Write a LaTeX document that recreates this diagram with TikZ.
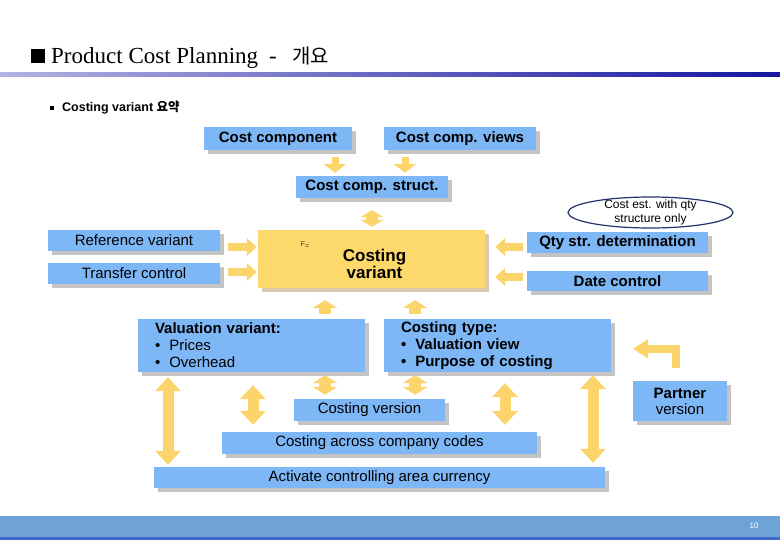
\documentclass[tikz,border=0pt]{standalone}
\usepackage{fontspec}
\setsansfont{Liberation Sans}
\newfontfamily\titlefont{Liberation Serif}
\newfontfamily\kr{Noto Sans CJK KR}
\usetikzlibrary{arrows.meta,shadows,calc,shapes.geometric}
\definecolor{boxblue}{RGB}{125,183,246}
\definecolor{cvyellow}{RGB}{253,216,106}
\definecolor{arryellow}{RGB}{252,212,108}
\definecolor{shgray}{RGB}{196,196,196}
\definecolor{shtan}{RGB}{216,202,170}
\definecolor{ellnavy}{RGB}{35,50,105}
\definecolor{footblue}{RGB}{111,163,216}
\definecolor{footdark}{RGB}{66,105,208}
\definecolor{lineleft}{RGB}{178,178,226}
\definecolor{lineright}{RGB}{22,22,160}
\tikzset{
  dtip/.tip={Triangle[width=23pt,length=9pt,line width=0pt]},
  ctip/.tip={Triangle[width=23pt,length=7pt,line width=0pt]},
  stip/.tip={Triangle[width=25pt,length=8pt,line width=0pt]},
  vtip/.tip={Triangle[width=26pt,length=14pt,line width=0pt]},
  htip/.tip={Triangle[width=18pt,length=10pt,line width=0pt]},
  btip/.tip={Triangle[width=19pt,length=15pt,line width=0pt]},
  bluebox/.style={fill=boxblue, inner sep=0pt, align=center,
    font=\sffamily\fontsize{15}{17}\selectfont,
    drop shadow={shadow xshift=4pt,shadow yshift=-4pt,opacity=1,fill=shgray}},
  bbold/.style={bluebox, font=\sffamily\bfseries\fontsize{15}{17}\selectfont},
  listbox/.style={bluebox, align=left, text width=193pt, inner xsep=17pt, minimum height=53pt},
  cvbox/.style={fill=cvyellow, inner sep=0pt,
    drop shadow={shadow xshift=4pt,shadow yshift=-4pt,opacity=1,fill=shtan}},
  yl/.style={draw=arryellow, line width=#1},
  ttl/.style={anchor=base west, inner sep=0pt, font=\titlefont\fontsize{23}{27}\selectfont},
}
\begin{document}
\begin{tikzpicture}[x=1pt,y=-1pt]
\useasboundingbox (0,0) rectangle (780,540);
\fill[white] (0,0) rectangle (780,540);

% header
\node[fill=black, minimum size=14pt, inner sep=0pt] (sq) at (37.5,56) {};
\node[ttl] (title) at (51,63.5) {Product Cost Planning};
\node[ttl] (dash) at (269,63.5) {-};
\node[ttl, font=\kr\fontsize{20}{25}\selectfont] (titlekr) at (292,64) {개요};
\shade[left color=lineleft, right color=lineright] (0,73) rectangle (780,77);
\node[fill=black, minimum size=4pt, inner sep=0pt] (bul) at (51.5,108.5) {};
\node[anchor=base west, inner sep=0pt, font=\sffamily\bfseries\fontsize{12.5}{15}\selectfont] (sub) at (62,112)
  {Costing variant {\kr\bfseries 요약}};

% top boxes
\node[bbold, minimum width=148pt, minimum height=23pt] (ccomp) at (278,138.5) {Cost component};
\node[bbold, minimum width=152pt, minimum height=23pt] (cviews) at (460,138.5) {Cost comp. views};
\node[bbold, minimum width=152pt, minimum height=22pt] (cstruct) at (372,187) {Cost comp. struct.};

% costing variant
\node[cvbox, minimum width=227pt, minimum height=58pt] (cv) at (371.5,259) {};
\node[font=\sffamily\bfseries\fontsize{17}{17}\selectfont, align=center, inner sep=0pt] (cvtext)
  at ($(cv.center)+(3,5)$) {Costing\\variant};
\node[font=\sffamily\fontsize{7}{7}\selectfont, inner sep=0pt, text=black!80] (glyph) at (305,245) {F\raisebox{-1.5pt}{=}};

% side boxes
\node[bluebox, minimum width=172pt, minimum height=21pt] (refv) at (134,240.5) {Reference variant};
\node[bluebox, minimum width=172pt, minimum height=21pt] (transfer) at (134,273.5) {Transfer control};
\node[bbold, minimum width=181pt, minimum height=21pt] (qty) at (617.5,242.5) {Qty str. determination};
\node[bbold, minimum width=181pt, minimum height=20pt] (date) at (617.5,281) {Date control};
\node[ellipse, draw=ellnavy, line width=1.2pt, fill=white, minimum width=165pt, minimum height=31pt,
  inner xsep=0pt, inner ysep=-4pt, align=center, font=\sffamily\fontsize{12}{14}\selectfont] (est)
  at (650.5,212.5) {Cost est. with qty\\structure only};

% lower boxes
\node[listbox] (valvar) at (251.5,345.5)
  {\textbf{Valuation variant:}\\\textbullet\hspace{9pt}Prices\\\textbullet\hspace{9pt}Overhead};
\node[listbox] (ctype) at (497.5,345.5)
  {\textbf{Costing type:}\\\textbf{\textbullet\hspace{9pt}Valuation view}\\\textbf{\textbullet\hspace{9pt}Purpose of costing}};
\node[bluebox, minimum width=151pt, minimum height=22pt] (cver) at (369.5,410) {Costing version};
\node[bluebox, minimum width=315pt, minimum height=22pt] (ccodes) at (379.5,443) {Costing across company codes};
\node[bluebox, minimum width=451pt, minimum height=21pt] (act) at (379.5,477.5) {Activate controlling area currency};
\node[bluebox, minimum width=94pt, minimum height=40pt, font=\sffamily\fontsize{15}{16}\selectfont] (partner)
  at (680,401) {\textbf{Partner}\\version};

% arrows top
\draw[yl=7pt, -dtip] ($(ccomp.south)+(57,7)$) -- ($(cstruct.north)+(-37,-3)$);
\draw[yl=7pt, -dtip] ($(cviews.south)+(-55,7)$) -- ($(cstruct.north)+(33,-3)$);
\draw[yl=12pt, ctip-ctip] ($(cstruct.south)+(0,12)$) -- ($(cstruct.south |- cv.north)+(0,-3)$);

% side arrows
\draw[yl=8pt, -htip] ($(refv.east)+(8,6.5)$) -- ($(refv.east -| cv.west)+(-1,6.5)$);
\draw[yl=8pt, -htip] ($(transfer.east)+(8,-1.5)$) -- ($(transfer.east -| cv.west)+(-1,-1.5)$);
\draw[yl=8pt, -htip] ($(qty.west)+(-4,4.5)$) -- ($(qty.west -| cv.east)+(10,4.5)$);
\draw[yl=8pt, -htip] ($(date.west)+(-4,-4)$) -- ($(date.west -| cv.east)+(10,-4)$);

% up arrows below costing variant
\draw[yl=12pt, -stip] ($(valvar.north)+(73.5,-5)$) -- ($(valvar.north |- cv.south)+(73.5,12)$);
\draw[yl=12pt, -stip] ($(ctype.north)+(-82.5,-5)$) -- ($(ctype.north |- cv.south)+(-82.5,12)$);

% vertical double arrows
\draw[yl=11pt, vtip-vtip] ($(valvar.south)+(-83.5,5)$) -- ($(valvar.south |- act.north)+(-83.5,-2)$);
\draw[yl=11pt, vtip-vtip] ($(valvar.south)+(1.5,13)$) -- ($(valvar.south |- ccodes.north)+(1.5,-7)$);
\draw[yl=12pt, stip-stip] ($(valvar.south)+(73.5,3)$) -- ($(valvar.south |- cver.north)+(73.5,-4)$);
\draw[yl=12pt, stip-stip] ($(ctype.south)+(-82.5,3)$) -- ($(ctype.south |- cver.north)+(-82.5,-4)$);
\draw[yl=11pt, vtip-vtip] ($(ctype.south)+(7.5,11)$) -- ($(ctype.south |- ccodes.north)+(7.5,-7)$);
\draw[yl=11pt, vtip-vtip] ($(ctype.south)+(95.5,3)$) -- ($(ctype.south |- act.north)+(95.5,-4)$);

% bent arrow from partner version
\coordinate (bend) at ($(partner.north)+(-47,-32)$);
\draw[yl=8.5pt, -btip, line join=miter] ($(partner.north)+(-4,-13)$) |- (bend);

% footer
\fill[footblue] (0,516) rectangle (780,537);
\fill[footdark] (0,537) rectangle (780,540);
\node[text=white, inner sep=0pt, font=\sffamily\fontsize{8}{8}\selectfont] (page) at (754,525.5) {10};
\end{tikzpicture}
\end{document}
